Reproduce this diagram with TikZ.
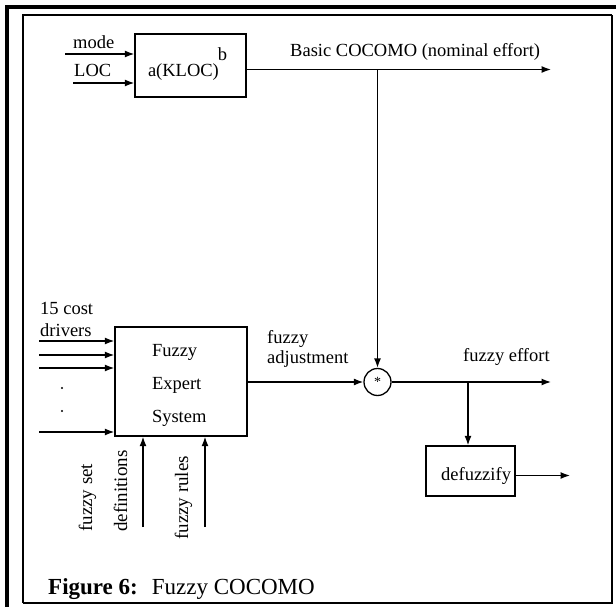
\documentclass[tikz,border=0pt]{standalone}
\usepackage{fontspec}
\setmainfont{Liberation Serif}
\usetikzlibrary{arrows.meta}
\begin{document}
\begin{tikzpicture}[x=1pt,y=-1pt,
  lbl/.style={font=\fontsize{18.5}{22}\selectfont, inner sep=0pt},
  vlbl/.style={font=\fontsize{19}{22}\selectfont, inner sep=0pt, anchor=base west, rotate=90},
  blk/.style={draw, line width=1.4pt, inner sep=0pt},
  flow/.style={line width=1.3pt, -{Latex[length=9.5pt,width=7pt]}},
  frameline/.style={line join=miter}]
\useasboundingbox (0,0) rectangle (616,607);

% page rule and figure frame
\draw[frameline, line width=4pt] (7,607) -- (7,7) -- (616,7);
\draw[frameline, line width=1.8pt] (23,603) -- (23,15) -- (612,15);
\draw[frameline, line width=2.6pt] (23,603) -- (612,603) -- (612,15);

% blocks
\node[blk, lbl, minimum width=111pt, minimum height=63pt, text width=85pt,
      align=left, inner xsep=13pt, text height=25pt, text depth=2pt]
      (kloc) at (190.5,65.5) {a(KLOC)\kern-1pt\raisebox{16pt}{b}};
\node[blk, minimum width=132pt, minimum height=109pt, text width=58pt,
      align=left, inner xsep=37pt, font=\fontsize{18.5}{33}\selectfont,
      text height=12pt, text depth=63pt]
      (fes) at (181,381.5) {Fuzzy\\Expert\\System};
\node[blk, lbl, minimum width=89pt, minimum height=50pt, text width=81pt,
      align=right, inner xsep=4pt, text height=20pt, text depth=2pt]
      (defuzz) at (470.5,471) {defuzzify};
\node[draw, circle, line width=1.3pt, minimum size=27pt, inner sep=0pt,
      font=\fontsize{14}{14}\selectfont] (mult) at (377.5,382) {*};

% labels
\node[lbl, anchor=base west] (modeLbl) at (73,49) {mode};
\node[lbl, anchor=base west] (locLbl) at (74,77) {LOC};
\node[lbl, anchor=base west] (basicLbl) at (290,57) {Basic COCOMO (nominal effort)};
\node[lbl, anchor=base west] (costLbl) at (40,314) {15 cost};
\node[lbl, anchor=base west] (drvLbl) at (40,336) {drivers};
\node[lbl, anchor=base west] (adjLbl) at (267,343) {fuzzy};
\node[lbl, anchor=base west] (adjLblB) at (267,363) {adjustment};
\node[lbl, anchor=base west] (effLbl) at (463,361) {fuzzy effort};
\node[vlbl] (setLbl) at (92,532) {fuzzy set};
\node[vlbl] (setLblB) at (127,532) {definitions};
\node[vlbl] (rulesLbl) at (188,540) {fuzzy rules};
\node[anchor=base west, inner sep=0pt, font=\fontsize{23}{26}\selectfont]
      (caption) at (48,594) {\textbf{Figure 6:}\hspace{14pt}Fuzzy COCOMO};

% inputs of the basic model
\coordinate (modeIn) at (65,54);
\coordinate (locIn) at (73,83);
\draw[flow] (modeIn) -- (kloc.west |- modeIn);
\draw[flow] (locIn) -- (kloc.west |- locIn);

% nominal effort and its tap into the multiplier
\coordinate (basicOut) at (551,69.5);
\coordinate (basicTap) at (377.5,69.5);
\draw[flow] (kloc.east |- basicOut) -- (basicOut);
\draw[flow] (basicTap) -- (mult.north);

% cost driver inputs
\foreach \yy/\nm in {341/a,355/b,368/c,432/d}{
  \coordinate (drv\nm) at (39,\yy);
  \draw[flow] (drv\nm) -- (fes.west |- drv\nm);
}
\fill (62,388) circle[radius=1.1pt];
\fill (62,411) circle[radius=1.1pt];

% knowledge inputs from below
\coordinate (setIn) at (143,527);
\coordinate (rulesIn) at (205,527);
\draw[flow] (setIn) -- (setIn |- fes.south);
\draw[flow] (rulesIn) -- (rulesIn |- fes.south);

% fuzzy adjustment, fuzzy effort, defuzzification
\draw[flow] (fes.east |- mult) -- (mult.west);
\coordinate (effOut) at (551,382);
\coordinate (effTap) at (468,382);
\draw[flow] (mult.east) -- (effOut);
\draw[flow] (effTap) -- (effTap |- defuzz.north);
\coordinate (defOut) at (570,475.5);
\draw[flow] (defuzz.east |- defOut) -- (defOut);
\end{tikzpicture}
\end{document}
